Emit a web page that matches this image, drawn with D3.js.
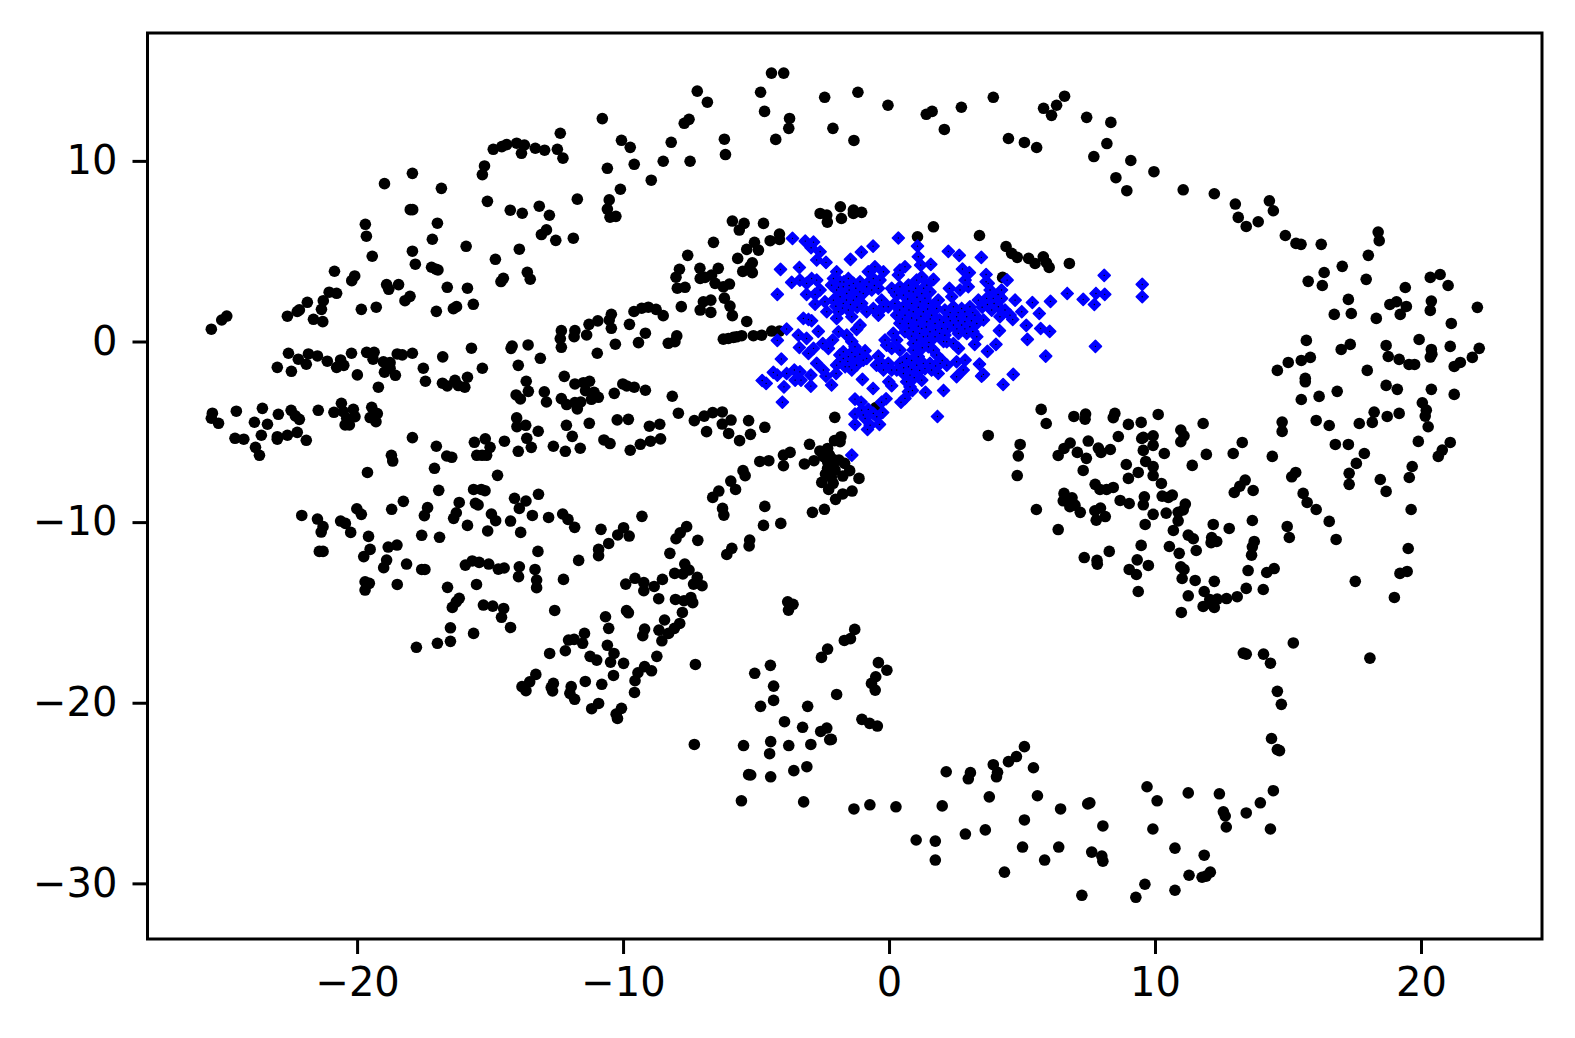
<!DOCTYPE html>
<html><head><meta charset="utf-8">
<script src="https://cdn.jsdelivr.net/npm/d3@7"></script>
<style>html,body{margin:0;padding:0;background:#fff}svg{display:block}</style>
</head><body><svg id="c" width="1575" height="1038"></svg>
<script>
const xTicks=[-20,-10,0,10,20];
const yTicks=[10,0,-10,-20,-30];
const xDomain=[-27.88,24.55];
const yDomain=[-33.08,17.08];
const dotsUpperLeft=[[-25.48,0.68],[-25.09,1.19],[-24.9,1.41],[-22.62,1.4],[-22.25,1.66],[-22.17,1.75],[-21.87,2.17],[-21.27,2.26],[-21.34,1.78],[-21.64,1.23],[-21.29,1.1],[-21.05,2.73],[-20.77,2.67],[-20.85,3.89],[-20.2,3.37],[-20.09,3.63],[-19.84,1.78],[-19.28,1.9],[-19.43,4.72],[-19.65,5.83],[-19.69,6.49],[-18.97,8.74],[-17.92,9.31],[-16.83,8.48],[-18.0,7.3],[-17.91,7.3],[-16.98,6.55],[-17.17,5.66],[-17.92,5.0],[-17.81,4.28],[-15.9,5.27],[-17.2,4.11],[-17.03,4.0],[-16.96,3.96],[-18.89,3.15],[-18.81,2.89],[-18.44,3.15],[-16.61,3.0],[-15.85,2.95],[-18.01,2.5],[-18.2,2.26],[-15.63,2.06],[-17.02,1.67],[-16.26,1.93],[-16.38,1.82],[-14.8,4.55],[-13.9,5.11],[-14.5,3.5],[-14.59,3.32],[-13.6,3.83],[-13.49,3.45],[-15.1,7.76],[-14.24,7.27],[-13.79,7.1],[-13.15,7.49],[-12.77,6.99],[-12.88,6.18],[-13.07,5.92],[-12.53,5.6],[-11.87,5.72],[-11.72,7.88],[-15.21,9.72],[-15.29,9.24],[-14.88,10.64],[-14.56,10.79],[-14.38,10.9],[-14.0,10.98],[-13.71,10.88],[-13.82,10.42],[-13.3,10.7],[-12.95,10.59],[-12.47,10.64],[-12.26,10.15],[-12.36,11.53],[-10.78,12.34],[-10.06,11.14],[-9.73,10.75],[-10.59,9.59],[-9.58,9.81],[-8.19,11.03],[-8.49,9.98],[-8.94,8.93],[-10.1,8.43],[-10.52,7.84],[-10.59,7.33],[-10.49,6.88],[-10.27,6.93],[-7.7,12.08],[-7.52,12.3],[-7.48,9.98]];
const dotsLeftRows=[[-22.58,-0.65],[-23.0,-1.43],[-22.47,-1.65],[-22.21,-0.98],[-21.83,-0.69],[-21.91,-1.26],[-21.49,-0.8],[-21.12,-1.09],[-20.77,-1.43],[-20.62,-1.02],[-20.5,-1.32],[-20.21,-0.65],[-19.99,-1.85],[-19.64,-0.6],[-19.36,-0.6],[-19.4,-0.98],[-19.01,-1.13],[-18.76,-1.17],[-18.97,-1.7],[-18.76,-1.48],[-18.56,-1.87],[-19.2,-2.53],[-18.49,-0.69],[-18.3,-0.74],[-17.92,-0.65],[-17.51,-1.48],[-17.43,-2.2],[-16.78,-0.85],[-15.7,-0.37],[-15.29,-1.48],[-15.85,-1.98],[-16.79,-2.31],[-16.61,-2.46],[-16.32,-2.15],[-16.19,-2.44],[-15.95,-2.53],[-14.17,-0.25],[-14.21,-0.38],[-13.57,-0.19],[-13.11,-0.93],[-13.94,-1.32],[-13.64,-2.2],[-13.56,-2.76],[-14.02,-2.96],[-13.86,-3.18],[-12.96,-2.79],[-12.88,-3.35],[-12.21,-1.93],[-11.81,-2.35],[-11.49,-2.28],[-11.26,-2.2],[-11.41,-2.72],[-11.09,-2.81],[-10.93,-3.09],[-11.19,-3.2],[-12.32,-3.16],[-12.12,-3.49],[-11.81,-3.38],[-11.59,-3.35],[-11.72,-3.73],[-10.01,-2.35],[-9.86,-2.46],[-9.58,-2.53],[-9.16,-2.7],[-10.33,-2.87],[-8.15,-3.03],[-7.92,-3.97],[-10.22,-4.34],[-9.8,-4.31],[-11.27,-4.53],[-12.13,-4.64],[-11.91,-5.25],[-13.19,-4.97],[-14.0,-4.23],[-13.99,-4.71],[-13.66,-4.64],[-13.62,-5.36],[-13.45,-5.86],[-12.62,-5.8],[-12.17,-6.08],[-11.61,-5.91],[-9.01,-4.69],[-8.62,-4.58],[-10.72,-5.45],[-10.49,-5.65],[-8.59,-5.39],[-8.97,-5.52],[-9.35,-5.69],[-9.73,-6.02],[-14.46,-5.52],[-15.59,-5.58],[-15.18,-5.39],[-15.0,-5.86],[-15.5,-6.3],[-15.13,-6.3],[-15.3,-6.3],[-13.94,-6.08],[-17.92,-5.32],[-17.02,-5.8],[-16.63,-6.34],[-16.44,-6.41],[-18.71,-6.3],[-25.44,-3.97],[-25.48,-4.25],[-25.21,-4.53],[-24.54,-3.86],[-23.56,-3.7],[-23.86,-4.47],[-23.37,-4.58],[-22.96,-4.03],[-22.48,-3.81],[-22.32,-4.12],[-22.17,-4.31],[-21.46,-3.81],[-23.6,-5.19],[-24.59,-5.36],[-24.26,-5.41],[-23.0,-5.27],[-23.0,-5.41],[-22.62,-5.19],[-22.25,-5.03],[-21.91,-5.47],[-23.82,-5.86],[-23.67,-6.3],[-20.87,-3.92],[-20.59,-3.42],[-20.52,-3.88],[-20.14,-3.75],[-20.08,-4.16],[-20.39,-4.25],[-20.45,-4.62],[-20.29,-4.62],[-19.45,-3.64],[-19.24,-3.99],[-19.51,-4.21],[-19.29,-4.44],[-7.57,4.77],[-7.88,4.0],[-8.01,3.56],[-7.96,2.95],[-7.67,3.0],[-7.81,1.93],[-9.59,1.66],[-9.3,1.84],[-9.05,1.9],[-8.76,1.78],[-8.49,1.43],[-10.44,1.51],[-10.52,1.19],[-10.44,0.73],[-10.95,1.14],[-11.28,0.95],[-11.37,0.36],[-11.81,0.6],[-11.84,0.27],[-12.32,0.6],[-12.36,0.16],[-12.32,-0.32],[-9.76,0.95],[-9.16,0.46],[-9.42,-0.06],[-10.29,-0.15],[-10.97,-0.65],[-7.98,0.31],[-8.05,-0.01],[-8.3,-0.1]];
const dotsLowerLeft=[[-7.32,-4.38],[-6.95,-4.13],[-6.63,-3.94],[-6.27,-3.9],[-5.94,-4.35],[-6.27,-4.57],[-6.86,-4.99],[-6.03,-5.09],[-5.62,-5.49],[-5.28,-4.38],[-5.21,-5.14],[-4.67,-4.75],[-2.04,-4.2],[-2.99,-5.69],[-2.6,-6.06],[-2.31,-5.92],[-2.05,-5.49],[-1.81,-5.27],[-1.84,-5.55],[-3.72,-6.14],[-3.97,-6.29],[-3.97,-6.88],[-4.52,-6.6],[-4.86,-6.64],[-3.18,-6.78],[-2.82,-6.6],[-2.46,-6.38],[-2.24,-6.29],[-2.1,-6.53],[-1.88,-6.56],[-1.67,-6.75],[-2.31,-6.65],[-2.1,-6.84],[-2.31,-7.02],[-2.03,-7.12],[-2.39,-7.34],[-2.17,-7.52],[-2.53,-7.8],[-2.1,-7.85],[-2.27,-8.19],[-1.74,-7.45],[-1.48,-7.15],[-1.13,-7.58],[-1.39,-8.28],[-1.74,-8.44],[-2.01,-8.74],[-2.43,-9.29],[-2.88,-9.46],[-5.49,-7.15],[-5.41,-7.43],[-5.95,-7.73],[-5.77,-8.19],[-6.4,-8.28],[-6.63,-8.63],[-6.26,-9.24],[-6.21,-9.61],[-4.67,-9.13],[-4.72,-10.18],[-4.07,-10.07],[-5.24,-10.99],[-5.26,-11.32],[-5.91,-11.45],[-6.1,-11.79],[-7.19,-11.01],[-7.61,-10.25],[-7.85,-10.59],[-8.01,-10.92],[-8.24,-11.73],[-9.29,-9.68],[-10.83,-10.4],[-9.98,-10.31],[-10.2,-10.71],[-9.77,-10.77],[-10.54,-11.18],[-10.92,-11.51],[-10.92,-11.86],[-11.67,-12.12],[-13.2,-11.62],[-12.24,-13.17],[-9.55,-13.11],[-9.22,-13.35],[-8.83,-13.56],[-9.22,-13.8],[-9.9,-13.43],[-8.52,-13.17],[-8.06,-12.84],[-7.68,-12.32],[-7.52,-12.65],[-7.75,-12.87],[-7.21,-13.06],[-7.35,-13.43],[-7.03,-13.52],[-8.66,-14.24],[-8.03,-14.28],[-7.71,-14.35],[-7.45,-14.17],[-7.38,-14.46],[-7.77,-15.0],[-9.87,-14.9],[-9.8,-15.02],[-10.66,-15.24],[-10.54,-15.88],[-8.44,-15.42],[-9.19,-15.92],[-9.26,-16.29],[-8.65,-15.98],[-8.29,-16.16],[-8.07,-15.88],[-7.87,-15.61],[-8.54,-16.57],[-11.45,-16.16],[-12.05,-16.53],[-11.84,-16.49],[-11.52,-16.71],[-12.17,-17.12],[-12.76,-17.27],[-10.59,-16.82],[-10.34,-17.27],[-10.47,-17.75],[-11.24,-17.43],[-10.99,-17.64],[-9.98,-17.82],[-8.73,-17.43],[-9.19,-18.0],[-8.93,-18.23],[-9.44,-18.34],[-9.55,-18.78],[-9.57,-19.43],[-10.36,-18.49],[-10.8,-18.98],[-11.42,-18.82],[-13.28,-18.43],[-13.51,-18.84],[-13.8,-19.11],[-13.65,-19.33],[-12.62,-18.93],[-12.7,-19.15],[-12.65,-19.35],[-11.95,-19.11],[-12.0,-19.48],[-11.82,-19.81],[-10.92,-20.04],[-11.18,-20.33],[-10.06,-20.31],[-10.26,-20.63],[-10.21,-20.87],[-17.77,-16.93],[-16.98,-16.71],[-16.49,-16.6],[-16.49,-15.85],[-15.62,-16.16],[-14.23,-15.83],[-14.57,-15.27],[-14.49,-14.78],[-14.9,-14.65],[-15.25,-14.59],[-16.42,-14.72],[-16.27,-14.41],[-16.16,-14.22],[-16.6,-13.61],[-15.51,-13.45],[-12.57,-14.89],[-15.93,-12.38],[-15.67,-12.15],[-15.41,-12.23],[-15.05,-12.32],[-14.69,-12.6],[-14.47,-12.54],[-13.9,-12.47],[-13.93,-13.02],[-13.31,-12.62],[-13.25,-13.21],[-13.25,-13.63],[-19.7,-13.3],[-19.54,-13.39],[-19.7,-13.76],[-18.49,-13.45],[-17.57,-12.62],[-17.45,-12.62],[-18.14,-12.32],[-19.0,-12.52],[-18.89,-12.1],[-19.75,-11.91],[-19.51,-11.51],[-18.83,-11.38],[-18.5,-11.27],[-17.57,-10.73],[-16.9,-10.84],[-21.42,-11.62],[-21.28,-11.62],[-19.57,-10.79],[-20.24,-10.57],[-20.62,-9.94],[-20.44,-10.07],[-21.49,-9.83],[-21.28,-10.25],[-21.35,-10.55],[-22.08,-9.63],[-20.01,-9.26],[-19.84,-9.57],[-18.7,-9.29],[-18.26,-8.85],[-17.35,-9.2],[-17.47,-9.64],[-16.16,-8.91],[-16.27,-9.48],[-16.37,-9.79],[-15.85,-10.18],[-15.55,-8.96],[-15.45,-9.05],[-14.95,-9.55],[-14.79,-9.92],[-15.09,-10.49],[-14.23,-9.94],[-13.85,-10.57],[-13.41,-9.63],[-12.8,-9.74],[-12.27,-9.55],[-12.07,-9.85],[-11.82,-10.29],[-14.08,-8.68],[-13.65,-8.83],[-13.9,-9.24],[-13.18,-8.46],[-16.93,-8.24],[-15.62,-8.19],[-15.33,-8.19],[-15.19,-8.26],[-14.72,-7.41],[-19.61,-7.25],[-17.09,-7.02],[-18.66,-6.62],[-3.81,-14.41],[-3.61,-14.55],[-3.78,-14.87],[-1.29,-15.94],[-1.45,-16.45],[-1.68,-16.55],[-2.31,-17.03],[-2.54,-17.49],[-4.46,-17.93],[-5.05,-18.37],[-4.34,-19.08],[-4.34,-19.87],[-4.83,-20.2],[-3.06,-20.2],[-1.97,-19.54],[-3.93,-21.05],[-3.25,-21.36],[-2.34,-21.4],[-2.57,-21.59],[-2.17,-22.03],[-1.02,-20.92],[-0.73,-21.14],[-0.44,-21.29],[-0.4,-17.78],[-0.08,-18.2],[-0.66,-18.93],[-0.5,-18.56],[-0.52,-19.3],[-7.28,-17.88]];
const dotsBottom=[[-7.32,-22.31],[-5.47,-22.37],[-5.55,-25.43],[-5.28,-23.98],[-5.2,-24.0],[-4.45,-24.1],[-4.49,-22.82],[-4.45,-22.15],[-3.77,-22.37],[-2.94,-22.31],[-2.23,-22.04],[-3.58,-23.76],[-3.09,-23.54],[-3.21,-25.49],[-1.32,-25.88],[-0.72,-25.65],[0.26,-25.76],[1.02,-27.6],[1.74,-27.66],[1.74,-28.71],[2.0,-25.71],[2.15,-23.82],[2.87,-27.27],[2.98,-24.21],[3.06,-23.87],[3.62,-27.04],[3.92,-23.43],[4.04,-24.1],[4.08,-23.85],[3.77,-25.21],[4.49,-23.26],[4.79,-22.98],[5.09,-22.43],[5.43,-23.6],[5.09,-26.49],[5.02,-27.99],[4.34,-29.38],[5.58,-25.15],[5.85,-28.71],[6.38,-27.99],[6.45,-25.88],[7.47,-25.6],[7.55,-25.54],[7.25,-30.66],[7.62,-28.27],[8.04,-26.82],[8.0,-28.49],[8.04,-28.77],[9.28,-30.77],[9.62,-30.05],[9.7,-24.65],[10.08,-25.43],[9.92,-26.99],[10.75,-28.05],[11.25,-24.99],[10.75,-30.38],[11.28,-29.55],[11.77,-29.66],[11.92,-29.6],[12.08,-29.38],[11.85,-28.44],[12.42,-25.04],[12.57,-26.04],[12.64,-26.27],[12.68,-26.88],[13.43,-26.1],[13.96,-25.54],[14.45,-24.87],[14.34,-26.99],[14.38,-21.98],[14.6,-22.59],[14.68,-22.65],[14.6,-19.37],[14.75,-20.09],[13.32,-17.25],[13.43,-17.31],[14.08,-17.31],[14.34,-17.81],[15.2,-16.69],[18.08,-17.53]];
const dotsRight=[[13.02,7.61],[14.3,7.79],[14.45,7.24],[13.13,6.87],[13.43,6.37],[13.88,6.63],[14.9,5.87],[15.3,5.43],[15.49,5.38],[16.25,5.38],[18.39,6.06],[18.43,5.58],[18.02,4.77],[17.04,4.16],[16.36,3.82],[15.76,3.33],[16.29,3.1],[17.94,3.44],[20.35,3.55],[20.72,3.71],[21.02,3.1],[19.41,2.99],[20.39,2.24],[20.35,1.72],[18.83,2.05],[19.08,2.2],[19.45,1.94],[19.22,1.5],[22.12,1.89],[21.14,1.0],[18.32,1.28],[17.27,2.33],[17.38,1.55],[16.74,1.5],[15.69,0.06],[15.01,-1.16],[14.6,-1.6],[15.5,-1.05],[15.84,-0.88],[17.0,-0.44],[17.34,-0.16],[18.69,-0.22],[18.77,-0.83],[19.18,-0.99],[19.55,-1.27],[19.76,-1.27],[19.93,0.11],[20.39,-0.44],[20.41,-0.7],[20.35,-0.86],[21.1,-0.27],[22.19,-0.38],[21.93,-0.88],[21.48,-1.16],[21.25,-1.38],[17.98,-1.6],[15.65,-2.04],[15.65,-2.23],[15.5,-3.21],[16.17,-3.04],[16.85,-2.76],[18.69,-2.43],[19.11,-2.65],[20.39,-2.65],[21.25,-2.93],[20.05,-3.39],[20.2,-3.8],[20.16,-4.13],[20.27,-4.72],[18.24,-3.91],[18.17,-4.48],[17.68,-4.54],[18.73,-4.15],[19.18,-3.98],[16.06,-4.37],[16.55,-4.65],[14.78,-4.46],[14.78,-4.98],[19.9,-5.53],[21.1,-5.59],[20.8,-6.01],[20.65,-6.36],[16.78,-5.7],[17.27,-5.7],[17.87,-6.2],[17.57,-6.75],[17.3,-7.3],[17.3,-7.91],[19.67,-6.92],[19.56,-7.53],[18.47,-7.64],[18.69,-8.3],[19.63,-9.3],[19.52,-11.46],[19.48,-12.73],[19.21,-12.84],[17.53,-13.28],[19.0,-14.17],[14.41,-6.36],[15.29,-7.25],[15.14,-7.49],[15.57,-8.41],[15.72,-8.91],[16.06,-9.3],[16.55,-9.96],[16.81,-10.96],[14.97,-10.24],[15.05,-10.85],[13.28,-5.59],[12.94,-6.2],[11.93,-6.25],[11.4,-6.86],[13.39,-7.67],[13.19,-8.01],[12.98,-8.36],[13.69,-8.25],[13.66,-9.91],[12.79,-10.35],[12.19,-10.13],[11.81,-4.54],[10.97,-4.9],[11.09,-5.22],[10.97,-5.55],[10.12,-4.04],[9.48,-4.48],[9.0,-4.59],[8.62,-5.26],[9.56,-5.31],[9.93,-5.22],[9.5,-5.37],[9.93,-5.75],[10.35,-6.2],[9.56,-6.03],[9.65,-6.64],[9.93,-6.93],[9.93,-7.42],[9.37,-7.25],[8.92,-6.81],[9.0,-7.58],[10.24,-7.86],[8.49,-3.98],[8.43,-4.22],[7.39,-4.02],[7.37,-4.3],[6.95,-4.15],[5.72,-3.76],[5.91,-4.54],[4.93,-5.7],[4.86,-6.33],[4.82,-7.42],[5.54,-9.3],[6.36,-10.41],[6.81,-5.62],[6.58,-5.92],[6.36,-6.31],[7.08,-6.14],[7.42,-6.47],[7.49,-5.51],[7.87,-5.9],[7.97,-6.14],[8.32,-5.98],[7.3,-7.14],[7.75,-7.91],[7.93,-8.19],[8.18,-8.19],[8.43,-8.08],[6.58,-8.41],[6.88,-8.65],[6.55,-8.82],[6.8,-9.15],[6.99,-9.06],[7.19,-9.46],[7.74,-9.37],[7.95,-9.22],[8.13,-9.69],[7.79,-9.89],[8.69,-8.8],[9.03,-8.97],[9.6,-8.6],[9.56,-9.04],[10.27,-8.56],[10.5,-8.63],[10.65,-8.5],[11.14,-9.0],[11.06,-9.33],[10.87,-9.46],[10.87,-9.93],[9.93,-9.57],[10.42,-9.5],[9.63,-10.13],[10.69,-10.46],[11.25,-10.72],[11.44,-10.92],[12.13,-10.85],[12.11,-11.14],[12.32,-11.07],[11.55,-11.57],[10.91,-11.73],[10.54,-11.35],[9.48,-11.29],[8.28,-11.62],[7.34,-11.96],[7.82,-12.12],[7.83,-12.33],[9.33,-12.09],[9.03,-12.62],[9.3,-12.9],[9.75,-12.4],[9.37,-13.84],[13.73,-11.07],[13.66,-11.37],[13.63,-11.83],[13.5,-12.68],[14.2,-12.79],[14.48,-12.57],[14.07,-13.73],[13.43,-13.67],[13.09,-14.13],[12.69,-14.23],[12.34,-14.26],[12.06,-14.28],[12.23,-14.72],[11.81,-14.67],[12.06,-14.5],[12.23,-13.28],[11.85,-13.84],[11.25,-14.08],[11.51,-13.23],[11.02,-13.12],[10.97,-12.47],[11.09,-12.62],[10.99,-15.0],[4.4,5.26],[4.61,4.88],[4.82,4.66],[5.25,4.6],[5.49,4.32],[5.8,4.69],[5.92,4.36],[6.02,4.1],[6.78,4.32],[4.27,3.55],[3.73,-5.2]];
const dotsCentreTop=[[-5.89,6.67],[-5.63,6.17],[-5.45,6.54],[-4.72,6.54],[-6.6,5.49],[-5.69,4.6],[-5.35,5.1],[-5.06,5.49],[-4.91,5.06],[-4.47,5.58],[-4.12,5.95],[-4.12,5.65],[-5.5,3.88],[-5.14,4.36],[-5.14,3.81],[-5.23,4.14],[-7.11,4.05],[-6.42,4.05],[-6.67,3.68],[-6.92,3.55],[-7.1,3.49],[-6.54,3.22],[-6.23,3.03],[-6.0,3.18],[-6.7,2.29],[-6.98,2.2],[-7.1,1.74],[-6.7,1.61],[-6.19,2.4],[-5.98,1.96],[-5.89,1.43],[-5.35,1.11],[-6.23,0.13],[-6.04,0.17],[-5.85,0.23],[-5.73,0.26],[-5.54,0.32],[-5.1,0.32],[-4.79,0.35],[-4.41,0.58],[-4.12,0.58],[-0.49,-3.65],[-2.59,7.09],[-2.34,7.0],[-2.32,6.61],[-1.79,6.81],[-1.83,7.46],[-1.34,7.28],[-1.03,7.15],[-1.34,7.09],[1.07,5.8],[1.67,6.35],[3.4,5.87],[-7.21,13.86],[-6.83,13.25],[-6.19,11.2],[-6.15,10.35],[-4.83,13.8],[-4.68,12.74],[-4.42,14.86],[-3.96,14.86],[-3.74,12.35],[-3.77,11.8],[-4.26,11.19],[-2.42,13.52],[-2.11,11.8],[-1.32,11.13],[-1.17,13.8],[-0.04,13.08],[1.4,12.58],[1.62,12.74],[2.08,11.74],[2.72,12.97],[3.92,13.52],[4.49,11.24],[5.09,11.02],[5.55,10.74],[5.81,12.91],[6.3,13.08],[6.6,13.58],[6.11,12.52],[7.43,12.41],[7.7,10.24],[8.19,10.96],[8.34,12.13],[9.09,10.02],[8.53,9.07],[8.94,8.35],[9.96,9.4],[11.06,8.4],[12.23,8.18]];
const blueSparse=[[-3.63,5.71],[-3.15,5.56],[-2.84,5.5],[-2.93,5.19],[-2.59,4.97],[-2.72,4.51],[-2.37,4.38],[-4.08,3.99],[-3.37,4.1],[-4.2,2.61],[-3.66,3.27],[-3.35,3.4],[-3.1,3.22],[-2.91,3.49],[-2.72,3.4],[-2.59,2.85],[-3.1,2.61],[-2.78,2.61],[-2.78,2.07],[-1.45,4.55],[-1.04,4.95],[-0.6,5.28],[0.35,5.73],[1.07,5.28],[1.1,4.69],[1.19,4.23],[1.57,4.27],[2.23,4.99],[2.64,4.77],[3.47,4.66],[2.76,4.01],[3.02,3.81],[3.65,3.71],[3.65,3.31],[4.44,3.4],[8.09,3.66],[9.52,3.16],[9.52,2.48],[6.7,2.66],[7.3,2.33],[7.78,2.66],[8.11,2.61],[7.72,2.05],[6.07,2.22],[5.39,2.16],[5.65,1.55],[7.76,-0.27],[5.89,-0.81],[6.04,0.56],[5.7,0.72],[5.16,0.89],[5.2,0.12],[4.74,2.29],[4.99,1.65],[4.65,1.22],[4.15,0.6],[4.02,-0.16],[3.7,-0.55],[3.4,-1.25],[3.55,-1.82],[4.67,-1.82],[4.29,-2.38],[3.48,-1.92],[3.22,-0.16],[2.05,-2.71],[1.37,-2.82],[0.88,-2.71],[1.82,-4.15],[-3.85,0.69],[-4.2,0.06],[-3.41,0.35],[-3.1,0.17],[-2.66,0.56],[-3.22,1.28],[-3.03,1.22],[-2.91,1.15],[-3.37,-0.33],[-2.84,-0.38],[-3.03,-0.66],[-2.49,-0.11],[-2.12,0.08],[-2.28,-0.38],[-4.05,-0.97],[-2.72,-1.21],[-2.47,-1.58],[-2.37,-1.92],[-1.99,-1.77],[-2.16,-2.41],[-2.94,-2.47],[-2.94,-1.86],[-3.95,-2.51],[-4.01,-3.36],[-4.77,-2.16],[-4.62,-2.32],[-4.35,-1.71],[-4.2,-1.86],[-3.85,-1.77],[-3.56,-1.58],[-3.35,-1.68],[-3.53,-2.14],[-3.31,-2.14],[-1.0,-2.1],[-0.6,-2.6],[-0.01,-2.23],[0.1,-2.45],[-1.28,-3.19],[-1.05,-3.36],[-0.11,-3.17],[-0.28,-3.36],[0.45,-3.36],[0.6,-3.15],[0.73,-2.78],[-1.28,-4.02],[-1.03,-3.8],[-0.78,-3.76],[-0.59,-3.98],[-0.24,-3.93],[-0.9,-4.26],[-1.28,-4.59],[-0.81,-4.87],[-0.71,-4.63],[-0.36,-4.59],[-0.46,-4.17],[-0.97,-4.07],[-1.4,-6.29]];
const blueCoreLeft=[[-1.97,3.86],[-2.09,3.49],[-1.84,3.31],[-2.16,3.12],[-1.97,2.85],[-1.72,3.03],[-1.53,3.49],[-1.34,3.22],[-1.09,3.31],[-0.78,3.86],[-0.53,4.14],[-0.21,3.86],[-0.59,3.49],[-0.34,3.4],[-0.84,3.03],[-0.97,2.66],[-0.65,2.85],[-0.4,2.94],[-1.22,2.48],[-1.59,2.66],[-1.84,2.48],[-2.09,2.29],[-2.41,2.2],[-1.72,2.11],[-1.34,2.29],[-1.03,2.11],[-1.53,1.74],[-1.9,1.65],[-2.34,1.65],[-1.97,1.28],[-1.4,1.37],[-0.84,1.65],[-0.59,1.83],[-0.28,2.29],[-0.4,1.46],[-0.21,1.92],[-0.03,1.92],[-1.9,0.54],[-1.59,0.35],[-1.4,-0.01],[-1.28,-0.29],[-1.72,-0.57],[-1.53,-0.84],[-1.84,-1.12],[-1.97,-1.31],[-1.65,-1.4],[-1.4,-1.58],[-1.22,-1.31],[-0.9,-0.51],[-0.84,-0.94],[-1.09,0.91],[-1.22,0.67],[-0.97,-1.03],[-1.28,-0.84],[-1.72,-0.94],[0.16,0.45],[-0.15,0.08],[-0.09,-0.2],[0.29,0.08],[0.41,-0.48],[0.1,-0.38],[-0.4,-0.81],[-0.28,-1.21],[-0.47,-1.31],[-0.03,-1.21],[-0.21,-1.58],[0.1,-1.58],[-1.7,3.3],[-1.5,3.1],[-1.9,3.0],[-1.5,2.85],[-1.25,2.95],[-1.1,2.75],[-0.75,3.3],[-0.55,3.1],[-1.6,2.3],[-1.45,2.05],[-1.2,1.9],[-1.75,1.85],[-2.0,1.95],[-1.85,-0.75],[-1.55,-1.1],[-1.4,-0.6],[-1.5,-1.4],[-1.1,-0.7]];
const blueCoreRight=[[0.41,3.95],[0.6,4.14],[0.35,3.68],[0.1,2.94],[0.41,3.03],[0.73,3.12],[1.04,3.4],[1.23,3.58],[1.42,3.12],[1.67,3.44],[0.29,2.57],[0.54,2.57],[0.91,2.75],[1.23,2.66],[1.54,2.75],[1.85,2.29],[0.22,2.11],[0.54,1.92],[0.85,2.11],[1.17,2.2],[1.48,2.11],[1.79,1.83],[0.29,1.46],[0.6,1.46],[0.91,1.65],[1.29,1.65],[1.6,1.46],[0.41,1.0],[0.73,1.0],[1.04,1.19],[1.42,1.09],[1.73,1.0],[0.6,0.54],[0.91,0.54],[1.23,0.72],[1.54,0.54],[1.98,0.72],[1.04,0.08],[1.29,0.26],[1.73,0.26],[2.1,0.35],[2.27,2.94],[2.36,2.48],[2.67,2.85],[2.98,3.03],[2.86,3.4],[2.1,1.74],[2.42,1.92],[2.73,1.83],[3.04,1.92],[3.36,2.29],[3.67,2.39],[2.23,1.37],[2.54,1.37],[2.92,1.37],[3.23,1.46],[3.55,1.19],[2.42,0.91],[2.73,0.91],[3.04,0.82],[3.3,1.0],[2.61,0.45],[2.92,0.45],[3.3,0.26],[2.17,-0.01],[2.42,-0.11],[2.61,-0.38],[3.8,2.85],[4.23,2.85],[3.92,2.39],[4.23,2.39],[3.86,1.74],[4.11,1.92],[4.36,1.74],[4.17,1.37],[4.55,1.46],[3.73,3.22],[0.91,-0.48],[1.1,-0.84],[0.66,-0.94],[0.41,-1.21],[0.73,-1.4],[1.04,-1.31],[0.29,-1.58],[0.54,-1.77],[0.79,-1.86],[1.29,-1.21],[1.54,-1.21],[1.79,-0.75],[1.92,-1.21],[2.17,-1.31],[1.85,-1.77],[1.6,-1.58],[1.23,-2.14],[0.66,-2.23],[0.79,-2.51],[2.54,-1.12],[2.86,-1.03],[2.79,-1.58],[2.54,-1.95],[1.48,-0.29],[1.67,-0.48],[0.91,-0.11],[0.2,2.75],[0.7,2.35],[1.05,2.45],[1.35,2.4],[0.4,1.75],[0.75,1.75],[1.1,1.9],[1.45,1.8],[0.5,1.25],[0.85,1.3],[1.2,1.4],[1.55,1.25],[0.75,0.75],[1.1,0.85],[1.4,0.8],[1.75,0.65],[0.85,0.3],[1.15,0.45],[1.45,0.3],[1.9,0.45],[1.9,1.2],[2.05,1.05],[2.3,1.15],[2.6,1.15],[2.85,1.1],[3.1,1.15],[2.3,1.6],[2.6,1.6],[2.85,1.65],[3.15,1.6],[2.2,0.7],[2.55,0.7],[2.85,0.7],[3.15,0.55],[2.05,0.0],[1.5,-0.05],[1.25,-0.35],[0.85,-1.05],[0.55,-1.45],[0.85,-1.55],[0.5,-1.15],[1.15,-1.6],[1.35,-1.5],[1.75,-1.35],[2.0,-1.05],[0.95,-2.0],[1.0,2.95],[1.3,2.95],[0.75,2.8],[3.7,2.05],[3.95,2.1],[4.1,2.6],[3.5,1.9]];

const blackDots=[...dotsUpperLeft,...dotsLeftRows,...dotsLowerLeft,...dotsBottom,...dotsRight,...dotsCentreTop];
const blueDots=[...blueSparse,...blueCoreLeft,...blueCoreRight];

const svg=d3.select('#c');
const L=147.5,R=1542,T=33,B=939;
const x=d3.scaleLinear().domain(xDomain).range([L,R]);
const y=d3.scaleLinear().domain(yDomain).range([B,T]);

svg.append('g').selectAll('circle').data(blackDots).join('circle')
  .attr('cx',d=>x(d[0])).attr('cy',d=>y(d[1])).attr('r',5.8).attr('fill','#000');

const dia=d3.symbol().type(d3.symbolSquare).size(72);
svg.append('g').selectAll('path').data(blueDots).join('path')
  .attr('d',dia()).attr('transform',d=>`translate(${x(d[0])},${y(d[1])}) rotate(45)`)
  .attr('fill','#0000ff').attr('stroke','#0000ff').attr('stroke-width',1.6).attr('stroke-linejoin','round');
svg.append('g').selectAll('circle').data(blueDots).join('circle')
  .attr('cx',d=>x(d[0])).attr('cy',d=>y(d[1])).attr('r',0.7).attr('fill','#000');

const fmt=d=>String(d).replace('-','\u2212');
const gx=svg.append('g').attr('transform',`translate(0,${B})`)
  .call(d3.axisBottom(x).tickValues(xTicks).tickFormat(fmt).tickSize(15).tickPadding(14));
const gy=svg.append('g').attr('transform',`translate(${L},0)`)
  .call(d3.axisLeft(y).tickValues(yTicks).tickFormat(fmt).tickSize(15).tickPadding(15));
[gx,gy].forEach(g=>{
  g.select('.domain').remove();
  g.selectAll('.tick line').attr('stroke','#000').attr('stroke-width',3);
  g.selectAll('text').attr('fill','#000').style('font-family','"DejaVu Sans"').style('font-size','40px');
});
svg.append('rect').attr('x',L).attr('y',T).attr('width',R-L).attr('height',B-T)
  .attr('fill','none').attr('stroke','#000').attr('stroke-width',3);
</script></body></html>
